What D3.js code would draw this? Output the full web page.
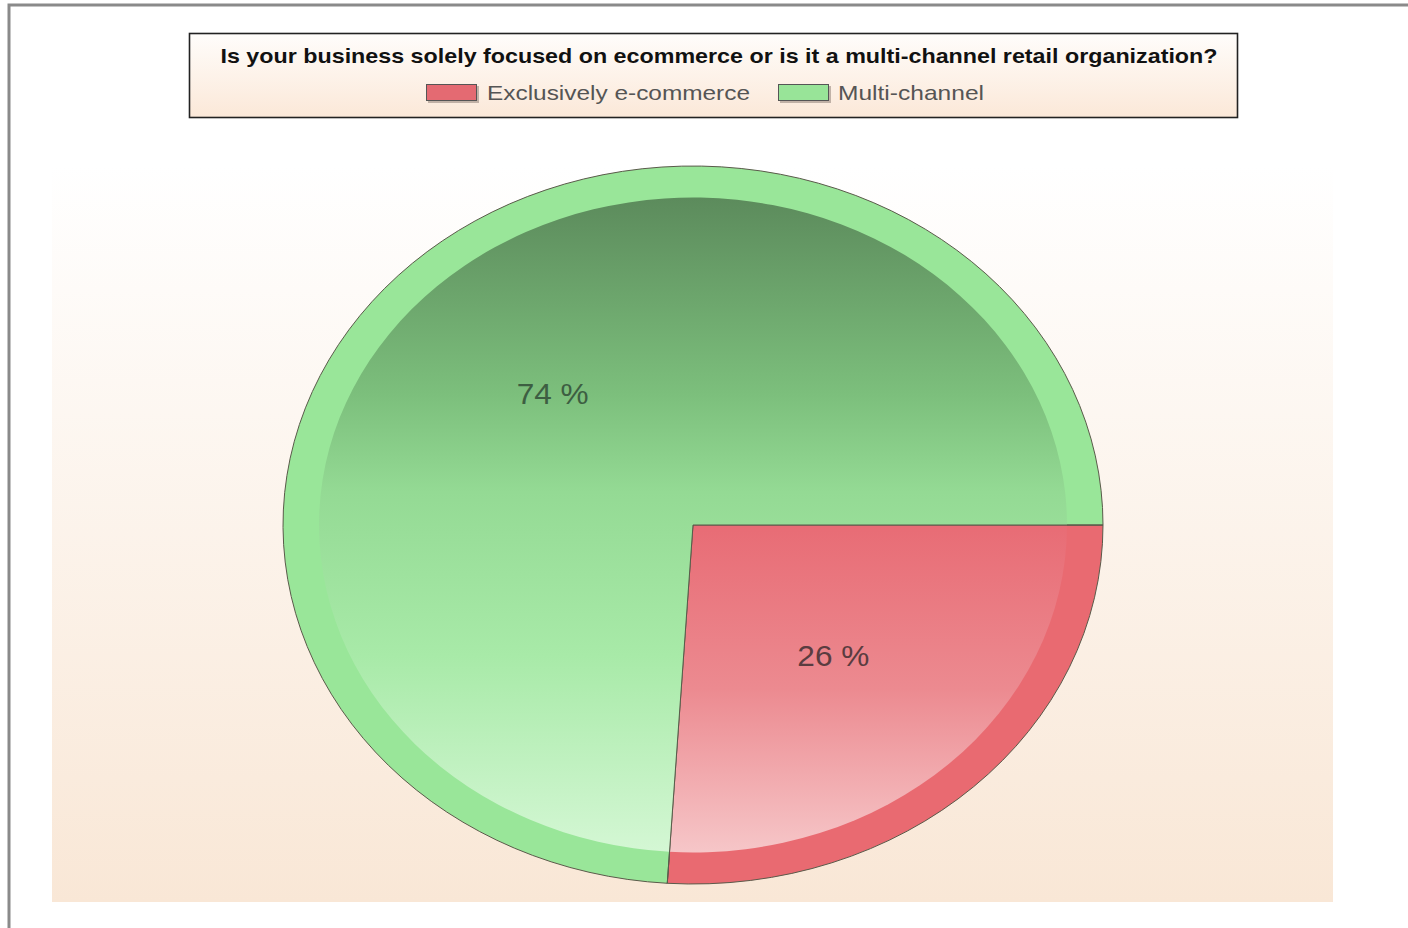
<!DOCTYPE html>
<html>
<head>
<meta charset="utf-8">
<script src="https://cdn.jsdelivr.net/npm/d3@7"></script>
<style>
html,body{margin:0;padding:0;background:#fff;}
svg{display:block;font-family:"Liberation Sans",Arial,sans-serif;}
</style>
</head>
<body>
<svg id="chart" width="1408" height="928"></svg>
<script>
const title = "Is your business solely focused on ecommerce or is it a multi-channel retail organization?";
const categories = ["Exclusively e-commerce", "Multi-channel"];
const values = [26, 74];
const labels = ["26 %", "74 %"];
const ringColors = ["#e96a71", "#99e699"];
const gradientStops = [
  [[0, "#e86c75"], [0.5, "#ec8a90"], [1, "#f6c6c8"]],
  [[0, "#5c8b5c"], [0.3, "#7cbf7c"], [0.45, "#94da94"], [0.7, "#a8eaa8"], [1, "#d4f7d4"]]
];
const swatchColors = ["#e46a72", "#98e498"];
const labelColors = ["#5a3c40", "#3d5e42"];

const svg = d3.select("#chart");
const defs = svg.append("defs");

// outer frame
svg.append("rect").attr("x", 9).attr("y", 5).attr("width", 1460).attr("height", 960)
  .attr("fill", "none").attr("stroke", "#8a8a8a").attr("stroke-width", 3);

// plot area background
const bg = defs.append("linearGradient").attr("id", "bg").attr("x1", 0).attr("y1", 0).attr("x2", 0).attr("y2", 1);
bg.append("stop").attr("offset", 0).attr("stop-color", "#ffffff");
bg.append("stop").attr("offset", 1).attr("stop-color", "#f9e7d6");
svg.append("rect").attr("x", 52).attr("y", 165).attr("width", 1281).attr("height", 737).attr("fill", "url(#bg)");

// legend box
const lg = defs.append("linearGradient").attr("id", "lg").attr("x1", 0).attr("y1", 0).attr("x2", 0).attr("y2", 1);
lg.append("stop").attr("offset", 0).attr("stop-color", "#fffdfb");
lg.append("stop").attr("offset", 1).attr("stop-color", "#fbe8d8");
svg.append("rect").attr("x", 189.5).attr("y", 33.5).attr("width", 1048).attr("height", 84)
  .attr("fill", "url(#lg)").attr("stroke", "#222").attr("stroke-width", 1.6);
svg.append("text").attr("x", 719).attr("y", 63).attr("text-anchor", "middle")
  .attr("font-size", 21).attr("font-weight", "bold").attr("fill", "#111")
  .attr("textLength", 997).attr("lengthAdjust", "spacingAndGlyphs").text(title);

const legendItems = [
  {sx: 426, tx: 487, tw: 263},
  {sx: 778, tx: 838, tw: 146}
];
categories.forEach((c, i) => {
  const it = legendItems[i];
  svg.append("rect").attr("x", it.sx + 2).attr("y", 86).attr("width", 51).attr("height", 17).attr("fill", "#9a8a80").attr("opacity", 0.6);
  svg.append("rect").attr("x", it.sx + 0.5).attr("y", 84.5).attr("width", 50).attr("height", 16)
    .attr("fill", swatchColors[i]).attr("stroke", "#555").attr("stroke-width", 1);
  svg.append("text").attr("x", it.tx).attr("y", 100).attr("font-size", 21).attr("fill", "#555")
    .attr("textLength", it.tw).attr("lengthAdjust", "spacingAndGlyphs").text(c);
});

// pie
const cx = 693, cy = 525, rx = 410, ry = 359;
const ringW = 36;
const g = svg.append("g").attr("transform", `translate(${cx},${cy}) scale(1,${ry / rx})`);
const pie = d3.pie().sort(null).startAngle(Math.PI / 2).endAngle(Math.PI / 2 + 2 * Math.PI);
const arcs = pie(values);
const outerArc = d3.arc().innerRadius(0).outerRadius(rx);
const innerArc = d3.arc().innerRadius(0).outerRadius(rx - ringW);
const labelArc = d3.arc().innerRadius(0).outerRadius(rx);

arcs.forEach((a, i) => {
  const gr = defs.append("linearGradient").attr("id", "sg" + i)
    .attr("x1", 0).attr("y1", 0).attr("x2", 0).attr("y2", 1);
  gradientStops[i].forEach(s => gr.append("stop").attr("offset", s[0]).attr("stop-color", s[1]));
  g.append("path").attr("d", outerArc(a)).attr("fill", ringColors[i])
    .attr("stroke", "#5a5a4a").attr("stroke-width", 1).attr("vector-effect", "non-scaling-stroke");
  g.append("path").attr("d", innerArc(a)).attr("fill", `url(#sg${i})`).attr("stroke", "none");
});
arcs.forEach((a) => {
  const ang = a.startAngle;
  g.append("line").attr("x1", 0).attr("y1", 0)
    .attr("x2", rx * Math.sin(ang)).attr("y2", -rx * Math.cos(ang))
    .attr("stroke", "#5a5a4a").attr("stroke-width", 1).attr("vector-effect", "non-scaling-stroke");
});

arcs.forEach((a, i) => {
  const c = labelArc.centroid(a);
  svg.append("text").attr("x", cx + c[0]).attr("y", cy + c[1] * ry / rx + 10)
    .attr("text-anchor", "middle").attr("font-size", 29).attr("fill", labelColors[i])
    .attr("textLength", 72).attr("lengthAdjust", "spacingAndGlyphs")
    .text(labels[i]);
});
</script>
</body>
</html>
